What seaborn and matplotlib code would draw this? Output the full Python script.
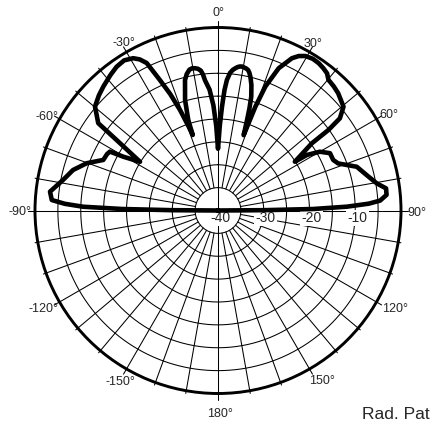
import numpy as np
import matplotlib
matplotlib.use("Agg")
import matplotlib.pyplot as plt
import matplotlib.transforms as mtransforms
import seaborn as sns

# Radiation pattern (angle in deg, gain in dB).
# Lower half-space sits on the -40 dB floor (center of the plot).
theta_left = [-90, -89.6, -89.1, -88.4, -87.5, -86.4, -83.6, -78.8, -74.4, -70.2,
              -66.2, -63.0, -61.4, -60.4, -58.0, -55.2, -53.9, -49.8, -46.0, -42.8,
              -38.5, -35.2, -32.0, -29.1, -27.4, -25.8, -24.0, -22.3, -20.7, -19.3,
              -18.5, -18.2, -16.6, -14.2, -12.9, -11.5, -10.3, -9.2, -8.1, -7.0,
              -6.3, -5.7, -4.0, -2.5, -1.2, 0]
gain_left = [-40, -30, -19, -10.5, -6.5, -3.6, -3.05, -5.5, -7.1, -9.5,
             -12.6, -12.8, -13.1, -16.2, -19.9, -13.0, -7.6, -4.8, -3.8, -3.1,
             -2.2, -1.55, -1.3, -1.9, -2.8, -4.2, -8.8, -12.5, -16.5, -20.5,
             -22.6, -19.2, -14.8, -10.6, -9.4, -8.6, -8.4, -8.5, -8.7, -9.2,
             -10.1, -11.4, -13.5, -17.0, -21.5, -26.5]

theta_right = [0, 1.2, 2.2, 3.1, 3.9, 5.0, 6.0, 6.9, 7.8, 8.7,
               9.5, 10.2, 11.2, 12.1, 12.8, 13.6, 14.9, 16.3, 17.1, 17.8,
               18.8, 19.8, 20.9, 23.1, 25.9, 27.6, 29.5, 32.0, 34.4, 36.5,
               38.5, 40.2, 43.0, 45.7, 50.4, 52.9, 53.9, 54.4, 57.6, 58.0,
               60.0, 62.9, 66.3, 68.6, 72.5, 76.6, 80.3, 82.5, 84.7, 86.5,
               87.4, 88.3, 89.1, 89.6, 90]
gain_right = [-26.5, -21.5, -17.3, -13.6, -11.4, -9.8, -9.1, -8.7, -8.35, -8.15,
              -8.1, -8.2, -8.35, -8.6, -9.1, -9.9, -11.6, -14.1, -16.6, -19.2,
              -22.6, -15.9, -11.0, -6.2, -3.0, -1.9, -1.2, -0.9, -1.0, -1.3,
              -1.7, -2.6, -2.9, -3.3, -4.4, -6.6, -10.1, -14.8, -20.1, -17.1,
              -14.3, -12.5, -12.5, -11.8, -8.2, -6.6, -4.8, -2.95, -3.0, -4.5,
              -7.0, -11.8, -19.2, -30, -40]

ring_levels = [-35, -30, -25, -20, -15, -10, -5]
ring_labels = [-40, -30, -20, -10]
angle_ticks = [0, 30, 60, 90, 120, 150, 180, -150, -120, -90, -60, -30]

sns.set_style("white")
plt.rcParams["font.family"] = ["Liberation Sans", "DejaVu Sans"]

fig = plt.figure(figsize=(4.3, 4.25), dpi=100)
ax = fig.add_axes([35 / 430, 31.5 / 425, 366 / 430, 366 / 425], projection="polar")
ax.set_theta_zero_location("N")
ax.set_theta_direction(-1)

# grid: rings + spokes every 10 deg (spokes stop at the -35 dB ring)
circ = np.linspace(0, 2 * np.pi, 721)
for lv in ring_levels:
    ax.plot(circ, np.full_like(circ, lv), color="black", lw=0.75, zorder=2)

for a in range(0, 360, 10):
    t = np.deg2rad(a)
    if a % 90 == 0:
        ax.plot([t, t], [-40, 1.5], color="black", lw=0.75, zorder=2, clip_on=False)
    else:
        ext = 1.3 if a % 30 == 0 else 0.6
        ax.plot([t, t], [-35, ext], color="black", lw=0.75, zorder=2, clip_on=False)

# pattern
theta = np.deg2rad(theta_left + theta_right[1:])
gain = gain_left + gain_right[1:]
sns.lineplot(x=theta, y=gain, sort=False, estimator=None, color="black",
             linewidth=3.3, ax=ax, zorder=5,
             solid_joinstyle="round", solid_capstyle="round")
ax.set_xlabel("")
ax.set_ylabel("")

ax.set_rlim(-40, 0)
ax.set_xticks([])
ax.set_yticks([])
ax.grid(False)
ax.spines["polar"].set_linewidth(2.1)
ax.spines["polar"].set_color("black")

# radial labels along the 90 deg axis
rtr = mtransforms.offset_copy(ax.transData, fig=fig, x=2, y=-7.5, units="dots")
for lv in ring_labels:
    ax.text(np.pi / 2, lv, str(lv), transform=rtr, ha="center", va="center",
            fontsize=10, zorder=4,
            bbox=dict(boxstyle="square,pad=0.1", fc="white", ec="none"))

# angle labels (pixel offsets from the rim)
label_off = {0: (0.5, 14.5), 30: (3, 8), 60: (12.5, 3.5), 90: (15.5, -2),
             120: (18.5, -7), 150: (13, -12), 180: (1.5, -20.5),
             -150: (-6.5, -12.7), -120: (-16.2, -7), -90: (-15, -2),
             -60: (-12.8, 1.5), -30: (-2.3, 9.5)}
for a in angle_ticks:
    dx, dy = label_off[a]
    tr = mtransforms.offset_copy(ax.transData, fig=fig, x=dx, y=dy, units="dots")
    ax.text(np.deg2rad(a), 0, f"{a}°", transform=tr, ha="center", va="center",
            fontsize=9, clip_on=False)

# caption runs off the right edge, as in the original
fig.text(362 / 430, 5.7 / 425, "Rad. Pattern", fontsize=12.5, ha="left", va="baseline")

fig.savefig("out.png", dpi=100, facecolor="white")
